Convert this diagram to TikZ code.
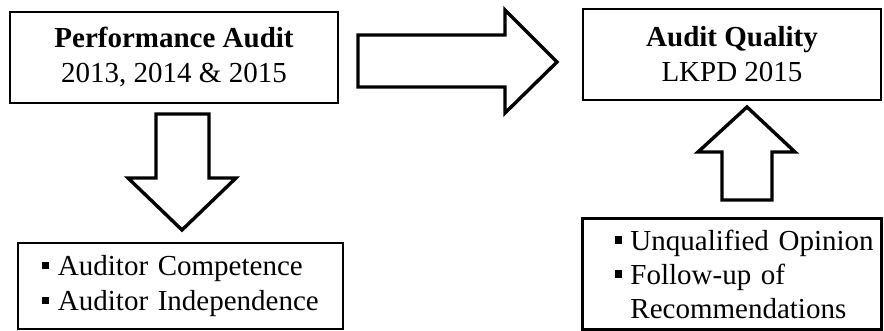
\documentclass[tikz,border=0pt]{standalone}
\usepackage{fontspec}
\setmainfont{Liberation Serif}
\usetikzlibrary{positioning}
\newcommand{\bul}{\raisebox{0.22em}{\rule{0.25em}{0.25em}}\hspace{0.3em}}
\tikzset{
  %% framed boxes
  box/.style={rectangle, draw, line width=2.4pt, inner ysep=0pt,
              font=\fontsize{29}{35}\selectfont},
  headbox/.style={box, align=center, inner xsep=0pt},
  listbox/.style={box, align=left},
  %% hollow block arrows
  blockarrow/.style={draw, line width=3.4pt, line join=miter, fill=white},
}
\begin{document}
\begin{tikzpicture}[x=1pt, y=-1pt]
\useasboundingbox (0,0) rectangle (884,331);

%% --- top boxes ---
\node[headbox, minimum width=328pt, minimum height=91pt] (perf) at (174,57.5)
  {\textbf{Performance Audit}\\2013, 2014 \& 2015};
\node[headbox, minimum width=298pt, minimum height=91pt] (qual) at (732,54.5)
  {\textbf{Audit Quality}\\LKPD 2015};

%% --- bottom boxes ---
\node[listbox, text width=277pt, inner xsep=24pt, minimum height=86pt] (auditor) at (180.5,286)
  {\mbox{\bul Auditor Competence}\\\mbox{\bul Auditor Independence}};
\node[listbox, text width=235pt, inner xsep=32pt, minimum height=111pt,
      font=\fontsize{29}{34}\selectfont] (opinion) at (732,274)
  {\mbox{\bul Unqualified Opinion}\\\mbox{\bul Follow-up of}\\\mbox{\hphantom{\bul}Recommendations}};

%% -- right arrow (perf -> qual) --
\draw[blockarrow] (358,35) -- (505,35) -- (505,10) -- (557,62)
  -- (505,113) -- (505,87) -- (358,87) -- cycle;

%% -- down arrow (perf -> auditor) --
\draw[blockarrow] (156,114) -- (209,114) -- (209,178) -- (236,178)
  -- (182,230) -- (128,178) -- (156,178) -- cycle;

%% -- up arrow (opinion -> qual) --
\draw[blockarrow] (722,200) -- (772,200) -- (772,152) -- (795,152)
  -- (747,107) -- (698,152) -- (722,152) -- cycle;

\end{tikzpicture}
\end{document}
